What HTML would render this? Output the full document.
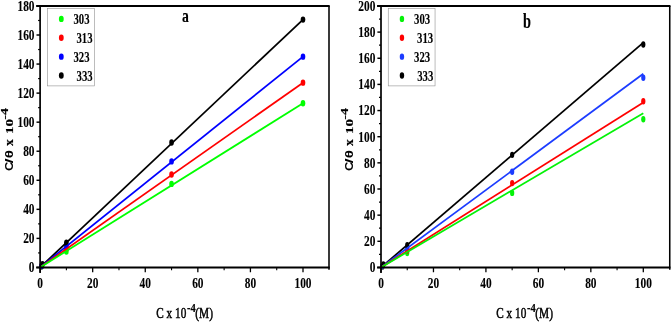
<!DOCTYPE html>
<html><head><meta charset="utf-8"><title>chart</title>
<style>html,body{margin:0;padding:0;background:#fff}svg{display:block}</style></head>
<body>
<svg width="671" height="322" viewBox="0 0 671 322" font-family="'Liberation Serif', serif" fill="#000">
<rect width="671" height="322" fill="#fff"/>
<ellipse cx="41.41" cy="266.58" rx="2.3" ry="3.2" fill="#00ff00"/>
<ellipse cx="66.39" cy="251.47" rx="2.3" ry="3.2" fill="#00ff00"/>
<ellipse cx="171.55" cy="183.92" rx="2.3" ry="3.2" fill="#00ff00"/>
<ellipse cx="303.00" cy="103.29" rx="2.3" ry="3.2" fill="#00ff00"/>
<ellipse cx="41.41" cy="266.29" rx="2.3" ry="3.2" fill="#ff0000"/>
<ellipse cx="66.39" cy="248.56" rx="2.3" ry="3.2" fill="#ff0000"/>
<ellipse cx="171.55" cy="174.47" rx="2.3" ry="3.2" fill="#ff0000"/>
<ellipse cx="303.00" cy="82.66" rx="2.3" ry="3.2" fill="#ff0000"/>
<ellipse cx="41.41" cy="266.14" rx="2.3" ry="3.2" fill="#0000ff"/>
<ellipse cx="66.39" cy="245.66" rx="2.3" ry="3.2" fill="#0000ff"/>
<ellipse cx="171.55" cy="161.40" rx="2.3" ry="3.2" fill="#0000ff"/>
<ellipse cx="303.00" cy="56.66" rx="2.3" ry="3.2" fill="#0000ff"/>
<ellipse cx="42.47" cy="264.25" rx="2.3" ry="3.2" fill="#000000"/>
<ellipse cx="66.39" cy="242.61" rx="2.3" ry="3.2" fill="#000000"/>
<ellipse cx="171.55" cy="142.51" rx="2.3" ry="3.2" fill="#000000"/>
<ellipse cx="303.00" cy="19.61" rx="2.3" ry="3.2" fill="#000000"/>
<line x1="40.10" y1="267.45" x2="303.00" y2="19.61" stroke="#000000" stroke-width="1.75" stroke-linecap="butt"/>
<line x1="40.10" y1="267.45" x2="303.00" y2="56.66" stroke="#0000ff" stroke-width="1.75" stroke-linecap="butt"/>
<line x1="40.10" y1="267.45" x2="303.00" y2="82.66" stroke="#ff0000" stroke-width="1.75" stroke-linecap="butt"/>
<line x1="40.10" y1="267.45" x2="303.00" y2="103.29" stroke="#00ff00" stroke-width="1.75" stroke-linecap="butt"/>
<line x1="36.20" y1="5.95" x2="329.70" y2="5.95" stroke="#000" stroke-width="1.9"/>
<line x1="36.20" y1="267.45" x2="329.70" y2="267.45" stroke="#000" stroke-width="1.9"/>
<line x1="40.10" y1="5.95" x2="40.10" y2="273.05" stroke="#000" stroke-width="1.7"/>
<line x1="329.00" y1="5.95" x2="329.00" y2="269.75" stroke="#000" stroke-width="1.55"/>
<line x1="36.50" y1="267.45" x2="40.10" y2="267.45" stroke="#000" stroke-width="1.45"/>
<text transform="translate(34.50,272.30) scale(0.785,1)" stroke="#000" stroke-width="0.12" font-size="14.5" font-weight="bold" text-anchor="end" >0</text>
<line x1="38.10" y1="252.92" x2="40.10" y2="252.92" stroke="#000" stroke-width="1.2"/>
<line x1="36.50" y1="238.39" x2="40.10" y2="238.39" stroke="#000" stroke-width="1.45"/>
<text transform="translate(34.50,243.24) scale(0.785,1)" stroke="#000" stroke-width="0.12" font-size="14.5" font-weight="bold" text-anchor="end" >20</text>
<line x1="38.10" y1="223.87" x2="40.10" y2="223.87" stroke="#000" stroke-width="1.2"/>
<line x1="36.50" y1="209.34" x2="40.10" y2="209.34" stroke="#000" stroke-width="1.45"/>
<text transform="translate(34.50,214.19) scale(0.785,1)" stroke="#000" stroke-width="0.12" font-size="14.5" font-weight="bold" text-anchor="end" >40</text>
<line x1="38.10" y1="194.81" x2="40.10" y2="194.81" stroke="#000" stroke-width="1.2"/>
<line x1="36.50" y1="180.28" x2="40.10" y2="180.28" stroke="#000" stroke-width="1.45"/>
<text transform="translate(34.50,185.13) scale(0.785,1)" stroke="#000" stroke-width="0.12" font-size="14.5" font-weight="bold" text-anchor="end" >60</text>
<line x1="38.10" y1="165.76" x2="40.10" y2="165.76" stroke="#000" stroke-width="1.2"/>
<line x1="36.50" y1="151.23" x2="40.10" y2="151.23" stroke="#000" stroke-width="1.45"/>
<text transform="translate(34.50,156.08) scale(0.785,1)" stroke="#000" stroke-width="0.12" font-size="14.5" font-weight="bold" text-anchor="end" >80</text>
<line x1="38.10" y1="136.70" x2="40.10" y2="136.70" stroke="#000" stroke-width="1.2"/>
<line x1="36.50" y1="122.17" x2="40.10" y2="122.17" stroke="#000" stroke-width="1.45"/>
<text transform="translate(34.50,127.02) scale(0.785,1)" stroke="#000" stroke-width="0.12" font-size="14.5" font-weight="bold" text-anchor="end" >100</text>
<line x1="38.10" y1="107.65" x2="40.10" y2="107.65" stroke="#000" stroke-width="1.2"/>
<line x1="36.50" y1="93.12" x2="40.10" y2="93.12" stroke="#000" stroke-width="1.45"/>
<text transform="translate(34.50,97.97) scale(0.785,1)" stroke="#000" stroke-width="0.12" font-size="14.5" font-weight="bold" text-anchor="end" >120</text>
<line x1="38.10" y1="78.59" x2="40.10" y2="78.59" stroke="#000" stroke-width="1.2"/>
<line x1="36.50" y1="64.06" x2="40.10" y2="64.06" stroke="#000" stroke-width="1.45"/>
<text transform="translate(34.50,68.91) scale(0.785,1)" stroke="#000" stroke-width="0.12" font-size="14.5" font-weight="bold" text-anchor="end" >140</text>
<line x1="38.10" y1="49.54" x2="40.10" y2="49.54" stroke="#000" stroke-width="1.2"/>
<line x1="36.50" y1="35.01" x2="40.10" y2="35.01" stroke="#000" stroke-width="1.45"/>
<text transform="translate(34.50,39.86) scale(0.785,1)" stroke="#000" stroke-width="0.12" font-size="14.5" font-weight="bold" text-anchor="end" >160</text>
<line x1="38.10" y1="20.48" x2="40.10" y2="20.48" stroke="#000" stroke-width="1.2"/>
<line x1="36.50" y1="5.95" x2="40.10" y2="5.95" stroke="#000" stroke-width="1.45"/>
<text transform="translate(34.50,10.80) scale(0.785,1)" stroke="#000" stroke-width="0.12" font-size="14.5" font-weight="bold" text-anchor="end" >180</text>
<line x1="40.10" y1="267.45" x2="40.10" y2="272.25" stroke="#000" stroke-width="1.3"/>
<text transform="translate(40.10,287.90) scale(0.785,1)" stroke="#000" stroke-width="0.12" font-size="14.5" font-weight="bold" text-anchor="middle" >0</text>
<line x1="66.39" y1="267.45" x2="66.39" y2="270.35" stroke="#000" stroke-width="1.1"/>
<line x1="92.68" y1="267.45" x2="92.68" y2="272.25" stroke="#000" stroke-width="1.3"/>
<text transform="translate(92.68,287.90) scale(0.785,1)" stroke="#000" stroke-width="0.12" font-size="14.5" font-weight="bold" text-anchor="middle" >20</text>
<line x1="118.97" y1="267.45" x2="118.97" y2="270.35" stroke="#000" stroke-width="1.1"/>
<line x1="145.26" y1="267.45" x2="145.26" y2="272.25" stroke="#000" stroke-width="1.3"/>
<text transform="translate(145.26,287.90) scale(0.785,1)" stroke="#000" stroke-width="0.12" font-size="14.5" font-weight="bold" text-anchor="middle" >40</text>
<line x1="171.55" y1="267.45" x2="171.55" y2="270.35" stroke="#000" stroke-width="1.1"/>
<line x1="197.84" y1="267.45" x2="197.84" y2="272.25" stroke="#000" stroke-width="1.3"/>
<text transform="translate(197.84,287.90) scale(0.785,1)" stroke="#000" stroke-width="0.12" font-size="14.5" font-weight="bold" text-anchor="middle" >60</text>
<line x1="224.13" y1="267.45" x2="224.13" y2="270.35" stroke="#000" stroke-width="1.1"/>
<line x1="250.42" y1="267.45" x2="250.42" y2="272.25" stroke="#000" stroke-width="1.3"/>
<text transform="translate(250.42,287.90) scale(0.785,1)" stroke="#000" stroke-width="0.12" font-size="14.5" font-weight="bold" text-anchor="middle" >80</text>
<line x1="276.71" y1="267.45" x2="276.71" y2="270.35" stroke="#000" stroke-width="1.1"/>
<line x1="303.00" y1="267.45" x2="303.00" y2="272.25" stroke="#000" stroke-width="1.3"/>
<text transform="translate(303.00,287.90) scale(0.785,1)" stroke="#000" stroke-width="0.12" font-size="14.5" font-weight="bold" text-anchor="middle" >100</text>
<rect x="47.60" y="8.5" width="46.8" height="77.4" fill="#fff" stroke="#909090" stroke-width="0.6"/>
<ellipse cx="61.30" cy="18.90" rx="2.4" ry="3.2" fill="#00ff00"/>
<text transform="translate(73.40,24.30) scale(0.74,1)" stroke="#000" stroke-width="0.12" font-size="14.5" font-weight="bold" text-anchor="start" >303</text>
<ellipse cx="61.30" cy="37.77" rx="2.4" ry="3.2" fill="#ff0000"/>
<text transform="translate(76.40,43.20) scale(0.74,1)" stroke="#000" stroke-width="0.12" font-size="14.5" font-weight="bold" text-anchor="start" >313</text>
<ellipse cx="61.30" cy="56.64" rx="2.4" ry="3.2" fill="#0000ff"/>
<text transform="translate(73.40,62.10) scale(0.74,1)" stroke="#000" stroke-width="0.12" font-size="14.5" font-weight="bold" text-anchor="start" >323</text>
<ellipse cx="61.30" cy="75.51" rx="2.4" ry="3.2" fill="#000000"/>
<text transform="translate(76.60,81.00) scale(0.74,1)" stroke="#000" stroke-width="0.12" font-size="14.5" font-weight="bold" text-anchor="start" >333</text>
<text transform="translate(181.90,22.30) scale(0.7,1)" stroke="#000" stroke-width="0.12" font-size="19.6" font-weight="bold" text-anchor="start" >a</text>
<text transform="translate(156.30,318.0) scale(0.73,1)" font-size="15.4" stroke="#000" stroke-width="0.5">C x 10</text>
<text transform="translate(186.90,311.5) scale(0.78,1)" font-size="13.4" font-weight="bold" stroke="#000" stroke-width="0.2">-4</text>
<text transform="translate(195.30,318.0) scale(0.74,1)" font-size="15.4" stroke="#000" stroke-width="0.5">(M)</text>
<text transform="translate(13.30,170.9) scale(0.72,1) rotate(-90) scale(0.9,1)" font-family="'Liberation Sans', sans-serif" font-size="14.2" font-weight="bold">C</text>
<text transform="translate(13.30,163.5) scale(0.72,1) rotate(-90) scale(1.3,1)" font-family="'Liberation Sans', sans-serif" font-size="14.2" font-weight="bold">/</text>
<text transform="translate(13.30,158.3) scale(0.72,1) rotate(-90) scale(1.05,1)" font-family="'Liberation Sans', sans-serif" font-size="14.6" font-weight="bold">θ</text>
<text transform="translate(13.30,146.0) scale(0.72,1) rotate(-90) scale(0.82,1)" font-size="16.5" font-weight="bold" stroke="#000" stroke-width="0.2">x</text>
<text transform="translate(13.20,133.9) scale(0.72,1) rotate(-90)" font-size="15" font-weight="bold" stroke="#000" stroke-width="0.2">10</text>
<text transform="translate(8.20,119.7) scale(0.72,1) rotate(-90)" font-size="14" font-weight="bold" stroke="#000" stroke-width="0.2">-4</text>
<ellipse cx="382.31" cy="266.67" rx="2.1" ry="3.2" fill="#04f208"/>
<ellipse cx="407.23" cy="253.07" rx="2.1" ry="3.2" fill="#04f208"/>
<ellipse cx="512.15" cy="192.92" rx="2.1" ry="3.2" fill="#04f208"/>
<ellipse cx="643.30" cy="119.31" rx="2.1" ry="3.2" fill="#04f208"/>
<ellipse cx="382.31" cy="266.40" rx="2.1" ry="3.2" fill="#ff0000"/>
<ellipse cx="407.23" cy="250.45" rx="2.1" ry="3.2" fill="#ff0000"/>
<ellipse cx="512.15" cy="183.12" rx="2.1" ry="3.2" fill="#ff0000"/>
<ellipse cx="643.30" cy="101.27" rx="2.1" ry="3.2" fill="#ff0000"/>
<ellipse cx="382.31" cy="266.27" rx="2.1" ry="3.2" fill="#1c3cff"/>
<ellipse cx="407.23" cy="247.84" rx="2.1" ry="3.2" fill="#1c3cff"/>
<ellipse cx="512.15" cy="171.74" rx="2.1" ry="3.2" fill="#1c3cff"/>
<ellipse cx="643.30" cy="77.73" rx="2.1" ry="3.2" fill="#1c3cff"/>
<ellipse cx="383.36" cy="264.57" rx="2.1" ry="3.2" fill="#000000"/>
<ellipse cx="407.23" cy="245.09" rx="2.1" ry="3.2" fill="#000000"/>
<ellipse cx="512.15" cy="154.87" rx="2.1" ry="3.2" fill="#000000"/>
<ellipse cx="643.30" cy="44.52" rx="2.1" ry="3.2" fill="#000000"/>
<line x1="381.00" y1="267.45" x2="643.30" y2="42.56" stroke="#000000" stroke-width="1.75" stroke-linecap="butt"/>
<line x1="381.00" y1="267.45" x2="643.30" y2="73.81" stroke="#1c3cff" stroke-width="1.75" stroke-linecap="butt"/>
<line x1="381.00" y1="267.45" x2="643.30" y2="102.44" stroke="#ff0000" stroke-width="1.75" stroke-linecap="butt"/>
<line x1="381.00" y1="267.45" x2="643.30" y2="113.16" stroke="#04f208" stroke-width="1.75" stroke-linecap="butt"/>
<line x1="377.10" y1="5.95" x2="670.45" y2="5.95" stroke="#000" stroke-width="1.9"/>
<line x1="377.10" y1="267.45" x2="670.45" y2="267.45" stroke="#000" stroke-width="1.9"/>
<line x1="381.00" y1="5.95" x2="381.00" y2="273.05" stroke="#000" stroke-width="1.7"/>
<line x1="669.75" y1="5.95" x2="669.75" y2="269.75" stroke="#000" stroke-width="1.55"/>
<line x1="377.40" y1="267.45" x2="381.00" y2="267.45" stroke="#000" stroke-width="1.45"/>
<text transform="translate(375.40,272.30) scale(0.785,1)" stroke="#000" stroke-width="0.12" font-size="14.5" font-weight="bold" text-anchor="end" >0</text>
<line x1="379.00" y1="254.38" x2="381.00" y2="254.38" stroke="#000" stroke-width="1.2"/>
<line x1="377.40" y1="241.30" x2="381.00" y2="241.30" stroke="#000" stroke-width="1.45"/>
<text transform="translate(375.40,246.15) scale(0.785,1)" stroke="#000" stroke-width="0.12" font-size="14.5" font-weight="bold" text-anchor="end" >20</text>
<line x1="379.00" y1="228.22" x2="381.00" y2="228.22" stroke="#000" stroke-width="1.2"/>
<line x1="377.40" y1="215.15" x2="381.00" y2="215.15" stroke="#000" stroke-width="1.45"/>
<text transform="translate(375.40,220.00) scale(0.785,1)" stroke="#000" stroke-width="0.12" font-size="14.5" font-weight="bold" text-anchor="end" >40</text>
<line x1="379.00" y1="202.07" x2="381.00" y2="202.07" stroke="#000" stroke-width="1.2"/>
<line x1="377.40" y1="189.00" x2="381.00" y2="189.00" stroke="#000" stroke-width="1.45"/>
<text transform="translate(375.40,193.85) scale(0.785,1)" stroke="#000" stroke-width="0.12" font-size="14.5" font-weight="bold" text-anchor="end" >60</text>
<line x1="379.00" y1="175.93" x2="381.00" y2="175.93" stroke="#000" stroke-width="1.2"/>
<line x1="377.40" y1="162.85" x2="381.00" y2="162.85" stroke="#000" stroke-width="1.45"/>
<text transform="translate(375.40,167.70) scale(0.785,1)" stroke="#000" stroke-width="0.12" font-size="14.5" font-weight="bold" text-anchor="end" >80</text>
<line x1="379.00" y1="149.78" x2="381.00" y2="149.78" stroke="#000" stroke-width="1.2"/>
<line x1="377.40" y1="136.70" x2="381.00" y2="136.70" stroke="#000" stroke-width="1.45"/>
<text transform="translate(375.40,141.55) scale(0.785,1)" stroke="#000" stroke-width="0.12" font-size="14.5" font-weight="bold" text-anchor="end" >100</text>
<line x1="379.00" y1="123.62" x2="381.00" y2="123.62" stroke="#000" stroke-width="1.2"/>
<line x1="377.40" y1="110.55" x2="381.00" y2="110.55" stroke="#000" stroke-width="1.45"/>
<text transform="translate(375.40,115.40) scale(0.785,1)" stroke="#000" stroke-width="0.12" font-size="14.5" font-weight="bold" text-anchor="end" >120</text>
<line x1="379.00" y1="97.47" x2="381.00" y2="97.47" stroke="#000" stroke-width="1.2"/>
<line x1="377.40" y1="84.40" x2="381.00" y2="84.40" stroke="#000" stroke-width="1.45"/>
<text transform="translate(375.40,89.25) scale(0.785,1)" stroke="#000" stroke-width="0.12" font-size="14.5" font-weight="bold" text-anchor="end" >140</text>
<line x1="379.00" y1="71.33" x2="381.00" y2="71.33" stroke="#000" stroke-width="1.2"/>
<line x1="377.40" y1="58.25" x2="381.00" y2="58.25" stroke="#000" stroke-width="1.45"/>
<text transform="translate(375.40,63.10) scale(0.785,1)" stroke="#000" stroke-width="0.12" font-size="14.5" font-weight="bold" text-anchor="end" >160</text>
<line x1="379.00" y1="45.18" x2="381.00" y2="45.18" stroke="#000" stroke-width="1.2"/>
<line x1="377.40" y1="32.10" x2="381.00" y2="32.10" stroke="#000" stroke-width="1.45"/>
<text transform="translate(375.40,36.95) scale(0.785,1)" stroke="#000" stroke-width="0.12" font-size="14.5" font-weight="bold" text-anchor="end" >180</text>
<line x1="379.00" y1="19.03" x2="381.00" y2="19.03" stroke="#000" stroke-width="1.2"/>
<line x1="377.40" y1="5.95" x2="381.00" y2="5.95" stroke="#000" stroke-width="1.45"/>
<text transform="translate(375.40,10.80) scale(0.785,1)" stroke="#000" stroke-width="0.12" font-size="14.5" font-weight="bold" text-anchor="end" >200</text>
<line x1="381.00" y1="267.45" x2="381.00" y2="272.25" stroke="#000" stroke-width="1.3"/>
<text transform="translate(381.00,287.90) scale(0.785,1)" stroke="#000" stroke-width="0.12" font-size="14.5" font-weight="bold" text-anchor="middle" >0</text>
<line x1="407.23" y1="267.45" x2="407.23" y2="270.35" stroke="#000" stroke-width="1.1"/>
<line x1="433.46" y1="267.45" x2="433.46" y2="272.25" stroke="#000" stroke-width="1.3"/>
<text transform="translate(433.46,287.90) scale(0.785,1)" stroke="#000" stroke-width="0.12" font-size="14.5" font-weight="bold" text-anchor="middle" >20</text>
<line x1="459.69" y1="267.45" x2="459.69" y2="270.35" stroke="#000" stroke-width="1.1"/>
<line x1="485.92" y1="267.45" x2="485.92" y2="272.25" stroke="#000" stroke-width="1.3"/>
<text transform="translate(485.92,287.90) scale(0.785,1)" stroke="#000" stroke-width="0.12" font-size="14.5" font-weight="bold" text-anchor="middle" >40</text>
<line x1="512.15" y1="267.45" x2="512.15" y2="270.35" stroke="#000" stroke-width="1.1"/>
<line x1="538.38" y1="267.45" x2="538.38" y2="272.25" stroke="#000" stroke-width="1.3"/>
<text transform="translate(538.38,287.90) scale(0.785,1)" stroke="#000" stroke-width="0.12" font-size="14.5" font-weight="bold" text-anchor="middle" >60</text>
<line x1="564.61" y1="267.45" x2="564.61" y2="270.35" stroke="#000" stroke-width="1.1"/>
<line x1="590.84" y1="267.45" x2="590.84" y2="272.25" stroke="#000" stroke-width="1.3"/>
<text transform="translate(590.84,287.90) scale(0.785,1)" stroke="#000" stroke-width="0.12" font-size="14.5" font-weight="bold" text-anchor="middle" >80</text>
<line x1="617.07" y1="267.45" x2="617.07" y2="270.35" stroke="#000" stroke-width="1.1"/>
<line x1="643.30" y1="267.45" x2="643.30" y2="272.25" stroke="#000" stroke-width="1.3"/>
<text transform="translate(643.30,287.90) scale(0.785,1)" stroke="#000" stroke-width="0.12" font-size="14.5" font-weight="bold" text-anchor="middle" >100</text>
<rect x="388.25" y="8.5" width="46.8" height="77.4" fill="#fff" stroke="#909090" stroke-width="0.6"/>
<ellipse cx="401.95" cy="18.90" rx="2.2" ry="3.2" fill="#04f208"/>
<text transform="translate(414.05,24.30) scale(0.74,1)" stroke="#000" stroke-width="0.12" font-size="14.5" font-weight="bold" text-anchor="start" >303</text>
<ellipse cx="401.95" cy="37.77" rx="2.2" ry="3.2" fill="#ff0000"/>
<text transform="translate(417.05,43.20) scale(0.74,1)" stroke="#000" stroke-width="0.12" font-size="14.5" font-weight="bold" text-anchor="start" >313</text>
<ellipse cx="401.95" cy="56.64" rx="2.2" ry="3.2" fill="#1c3cff"/>
<text transform="translate(414.05,62.10) scale(0.74,1)" stroke="#000" stroke-width="0.12" font-size="14.5" font-weight="bold" text-anchor="start" >323</text>
<ellipse cx="401.95" cy="75.51" rx="2.2" ry="3.2" fill="#000000"/>
<text transform="translate(417.25,81.00) scale(0.74,1)" stroke="#000" stroke-width="0.12" font-size="14.5" font-weight="bold" text-anchor="start" >333</text>
<text transform="translate(523.00,27.60) scale(0.7,1)" stroke="#000" stroke-width="0.12" font-size="20.5" font-weight="bold" text-anchor="start" >b</text>
<text transform="translate(496.30,318.0) scale(0.73,1)" font-size="15.4" stroke="#000" stroke-width="0.5">C x 10</text>
<text transform="translate(526.90,311.5) scale(0.78,1)" font-size="13.4" font-weight="bold" stroke="#000" stroke-width="0.2">-4</text>
<text transform="translate(535.30,318.0) scale(0.74,1)" font-size="15.4" stroke="#000" stroke-width="0.5">(M)</text>
<text transform="translate(353.00,170.9) scale(0.72,1) rotate(-90) scale(0.9,1)" font-family="'Liberation Sans', sans-serif" font-size="14.2" font-weight="bold">C</text>
<text transform="translate(353.00,163.5) scale(0.72,1) rotate(-90) scale(1.3,1)" font-family="'Liberation Sans', sans-serif" font-size="14.2" font-weight="bold">/</text>
<text transform="translate(353.00,158.3) scale(0.72,1) rotate(-90) scale(1.05,1)" font-family="'Liberation Sans', sans-serif" font-size="14.6" font-weight="bold">θ</text>
<text transform="translate(353.00,146.0) scale(0.72,1) rotate(-90) scale(0.82,1)" font-size="16.5" font-weight="bold" stroke="#000" stroke-width="0.2">x</text>
<text transform="translate(352.90,133.9) scale(0.72,1) rotate(-90)" font-size="15" font-weight="bold" stroke="#000" stroke-width="0.2">10</text>
<text transform="translate(347.90,119.7) scale(0.72,1) rotate(-90)" font-size="14" font-weight="bold" stroke="#000" stroke-width="0.2">-4</text>
</svg>
</body></html>
